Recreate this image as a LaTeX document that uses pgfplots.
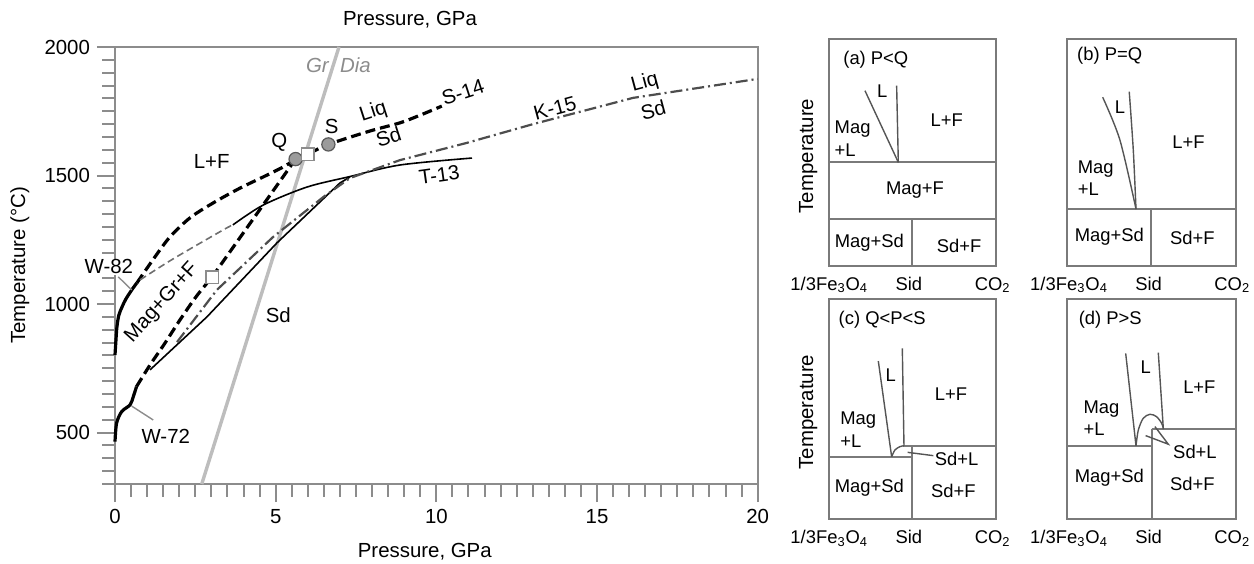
\documentclass[border=0pt]{standalone}
\usepackage{fontspec}
\setmainfont{Liberation Sans}
\usepackage{pgfplots}
\pgfplotsset{compat=1.18}
\definecolor{Frame}{HTML}{8C8C8C}
\definecolor{GrDia}{HTML}{BDBDBD}
\definecolor{Dot}{HTML}{9B9B9B}
\definecolor{DotEdge}{HTML}{5A5A5A}
\definecolor{Kline}{HTML}{4D4D4D}
\definecolor{Thin}{HTML}{6E6E6E}
\definecolor{Box}{HTML}{7A7A7A}
\definecolor{Inner}{HTML}{555555}

\newcommand{\fa}{\fontsize{10.2}{12}\selectfont}
\newcommand{\fb}{\fontsize{9.2}{11.2}\selectfont}

\pgfplotsset{
  panel/.style={anchor=south west, scale only axis,
    xmin=0, xmax=1, ymin=0, ymax=1, xtick=\empty, ytick=\empty,
    axis line style={line width=0.9pt, Box}, clip=false},
}
\tikzset{
  boxline/.style={Box, line width=0.9pt},
  inline/.style={Inner, line width=0.7pt},
  lab/.style={font=\fb, inner sep=0pt},
}

\begin{document}
\begin{tikzpicture}
\useasboundingbox (0,0) rectangle (627pt,281.5pt);

% ---------------- main P-T diagram ----------------
\begin{axis}[
  at={(57.5pt,39.5pt)}, anchor=south west, scale only axis,
  width=321.35pt, height=218.5pt,
  xmin=0, xmax=20, ymin=300, ymax=2000,
  xtick={0,5,10,15,20}, ytick={500,1000,1500,2000},
  minor xtick={0,0.5,...,20}, minor ytick={300,350,...,2000},
  tick align=outside, xtick pos=left, ytick pos=left,
  major tick length=9pt, minor tick length=6.3pt,
  every tick/.style={line width=1pt, Frame},
  axis line style={line width=1pt, Frame},
  tick label style={font=\fa},
  /pgf/number format/assume math mode=true,
  /pgf/number format/1000 sep={},
  clip=false,
]
% graphite/diamond boundary
\addplot[GrDia, line width=1.7pt] coordinates {(2.70,300) (6.97,2000)};

% W-82 (solid, then dashed to Q)
\addplot[black, line width=1.6pt, smooth] coordinates {
  (0,802) (0.03,860) (0.06,911) (0.12,957) (0.22,989) (0.34,1020) (0.56,1062) (0.68,1082)};
\addplot[black, line width=1.6pt, dash pattern=on 5pt off 2.5pt, smooth] coordinates {
  (0.68,1082) (1.24,1183) (1.71,1261) (2.33,1335) (3.05,1393) (3.89,1451) (4.67,1498) (5.29,1537) (5.62,1564)};

% W-72 (solid, then dashed through square to Q)
\addplot[black, line width=1.6pt, smooth] coordinates {
  (0,465) (0.05,537) (0.21,582) (0.47,608) (0.57,640) (0.67,679)};
\addplot[black, line width=1.6pt, dash pattern=on 5pt off 2.5pt, smooth] coordinates {
  (0.67,679) (1.09,763) (1.56,849) (2.02,938) (2.52,1028) (3.02,1105)};
\addplot[black, line width=1.6pt, dash pattern=on 5pt off 2.5pt] coordinates {
  (3.02,1105) (5.62,1564)};

% S-14
\addplot[black, line width=1.6pt, dash pattern=on 5pt off 2.5pt, smooth] coordinates {
  (5.62,1564) (6.0,1583) (6.64,1621) (7.93,1673) (8.87,1705) (9.5,1735) (10.17,1770)};

% thin curve: dashed extrapolation, then T-13 solid
\addplot[Thin, line width=0.8pt, dash pattern=on 3.5pt off 2pt, smooth] coordinates {
  (0.78,1094) (1.80,1175) (3.36,1288) (3.67,1308)};
\addplot[black, line width=0.8pt, smooth] coordinates {
  (3.67,1308) (4.61,1385) (5.97,1455) (7.31,1496) (8.87,1541) (11.11,1568)};
% T-13 lower branch
\addplot[black, line width=0.8pt] coordinates {
  (1.09,744) (2.86,950) (5.04,1238) (7.00,1471) (7.31,1494)};

% K-15
\addplot[Kline, line width=1.1pt, dash pattern=on 6pt off 2pt on 1pt off 2pt] coordinates {
  (1.93,852) (3.17,1055) (4.92,1261) (6.50,1418) (7.31,1490)
  (8.87,1560) (10.95,1627) (13.01,1700) (16.12,1802) (20.0,1876)};

% invariant points
\addplot[only marks, mark=*, mark size=3.3pt,
  mark options={fill=Dot, draw=DotEdge, line width=0.6pt}] coordinates {(5.62,1564) (6.64,1621)};
\addplot[only marks, mark=square*, mark size=3.2pt,
  mark options={fill=white, draw=Frame, line width=0.9pt}] coordinates {(3.02,1105) (6.0,1583)};

% leaders
\addplot[Frame, line width=0.7pt] coordinates {(0.10,1106) (0.52,1055)};
\addplot[Frame, line width=0.7pt] coordinates {(0.52,603) (1.19,549)};

% labels
\node[font=\fa\itshape, text=Frame] at (axis cs:6.30,1930) {Gr};
\node[font=\fa\itshape, text=Frame] at (axis cs:7.48,1930) {Dia};
\node[font=\fa] at (axis cs:5.11,1628) {Q};
\node[font=\fa] at (axis cs:6.74,1690) {S};
\node[font=\fa] at (axis cs:3.01,1554) {L+F};
\node[font=\fa, rotate=18] at (axis cs:8.04,1748) {Liq};
\node[font=\fa, rotate=18] at (axis cs:8.51,1651) {Sd};
\node[font=\fa, rotate=18] at (axis cs:10.83,1825) {S-14};
\node[font=\fa, rotate=15] at (axis cs:13.69,1762) {K-15};
\node[font=\fa, rotate=15] at (axis cs:16.49,1859) {Liq};
\node[font=\fa, rotate=15] at (axis cs:16.75,1755) {Sd};
\node[font=\fa, rotate=8] at (axis cs:10.09,1502) {T-13};
\node[font=\fa, fill=white, inner sep=0.5pt] at (axis cs:-0.19,1145) {W-82};
\node[font=\fa] at (axis cs:1.58,484) {W-72};
\node[font=\fa, rotate=48] at (axis cs:1.46,1004) {Mag+Gr+F};
\node[font=\fa] at (axis cs:5.08,957) {Sd};

\node[font=\fa] at (axis description cs:0.482,-0.155) {Pressure, GPa};
\node[font=\fa] at (axis description cs:0.459,1.062) {Pressure, GPa};
\node[font=\fa, rotate=90] at (axis description cs:-0.148,0.5) {Temperature (°C)};
\end{axis}

% ---------------- (a) P<Q ----------------
\begin{axis}[panel, at={(414.65pt,148.65pt)}, width=83.35pt, height=113.35pt]
\addplot[boxline] coordinates {(0,0.456) (1,0.456)};
\addplot[boxline] coordinates {(0,0.205) (1,0.205)};
\addplot[boxline] coordinates {(0.498,0) (0.498,0.205)};
\addplot[inline] coordinates {(0.214,0.772) (0.414,0.456)};
\addplot[inline] coordinates {(0.404,0.794) (0.414,0.456)};
\node[lab, anchor=west] at (axis cs:0.082,0.907) {(a) P<Q};
\node[lab] at (axis cs:0.318,0.768) {L};
\node[lab, anchor=west, align=left] at (axis cs:0.03,0.56) {Mag\\+L};
\node[lab] at (axis cs:0.704,0.643) {L+F};
\node[lab] at (axis cs:0.514,0.334) {Mag+F};
\node[lab] at (axis cs:0.24,0.103) {Mag+Sd};
\node[lab] at (axis cs:0.778,0.088) {Sd+F};
\node[lab, anchor=base, yshift=-12.2pt] at (axis cs:0.0,0) {1/3Fe\textsubscript{3}O\textsubscript{4}};
\node[lab, anchor=base, yshift=-12.2pt] at (axis cs:0.477,0) {Sid};
\node[lab, anchor=base, yshift=-12.2pt] at (axis cs:0.98,0) {CO\textsubscript{2}};
\node[font=\fa, rotate=90, inner sep=0pt] at (axis cs:-0.126,0.484) {Temperature};
\end{axis}

% ---------------- (b) P=Q ----------------
\begin{axis}[panel, at={(533.35pt,148.65pt)}, width=84.5pt, height=113.35pt]
\addplot[boxline] coordinates {(0,0.25) (1,0.25)};
\addplot[boxline] coordinates {(0.497,0) (0.497,0.25)};
\addplot[inline, smooth] coordinates {(0.213,0.743) (0.315,0.554) (0.41,0.25)};
\addplot[inline, smooth] coordinates {(0.37,0.768) (0.394,0.51) (0.41,0.25)};
\node[lab, anchor=west] at (axis cs:0.06,0.925) {(b) P=Q};
\node[lab] at (axis cs:0.315,0.699) {L};
\node[lab, anchor=west, align=left] at (axis cs:0.063,0.387) {Mag\\+L};
\node[lab] at (axis cs:0.72,0.543) {L+F};
\node[lab] at (axis cs:0.252,0.128) {Mag+Sd};
\node[lab] at (axis cs:0.743,0.121) {Sd+F};
\node[lab, anchor=base, yshift=-12.2pt] at (axis cs:0.014,0) {1/3Fe\textsubscript{3}O\textsubscript{4}};
\node[lab, anchor=base, yshift=-12.2pt] at (axis cs:0.485,0) {Sid};
\node[lab, anchor=base, yshift=-12.2pt] at (axis cs:0.98,0) {CO\textsubscript{2}};
\end{axis}

% ---------------- (c) Q<P<S ----------------
\begin{axis}[panel, at={(414.65pt,22pt)}, width=83.35pt, height=110pt]
\addplot[boxline] coordinates {(0,0.283) (0.498,0.283)};
\addplot[boxline] coordinates {(0.444,0.333) (1,0.333)};
\addplot[boxline] coordinates {(0.498,0) (0.498,0.333)};
\addplot[inline] coordinates {(0.294,0.718) (0.374,0.283)};
\addplot[inline] coordinates {(0.438,0.776) (0.448,0.333)};
\addplot[inline, smooth] coordinates {(0.374,0.283) (0.394,0.314) (0.424,0.329) (0.448,0.333)};
\addplot[inline] coordinates {(0.47,0.303) (0.624,0.288)};
\node[lab, anchor=west] at (axis cs:0.054,0.908) {(c) Q<P<S};
\node[lab] at (axis cs:0.368,0.655) {L};
\node[lab, anchor=west, align=left] at (axis cs:0.064,0.406) {Mag\\+L};
\node[lab] at (axis cs:0.73,0.567) {L+F};
\node[lab] at (axis cs:0.764,0.271) {Sd+L};
\node[lab] at (axis cs:0.24,0.144) {Mag+Sd};
\node[lab] at (axis cs:0.744,0.127) {Sd+F};
\node[lab, anchor=base, yshift=-12.2pt] at (axis cs:0.0,0) {1/3Fe\textsubscript{3}O\textsubscript{4}};
\node[lab, anchor=base, yshift=-12.2pt] at (axis cs:0.477,0) {Sid};
\node[lab, anchor=base, yshift=-12.2pt] at (axis cs:0.98,0) {CO\textsubscript{2}};
\node[font=\fa, rotate=90, inner sep=0pt] at (axis cs:-0.126,0.486) {Temperature};
\end{axis}

% ---------------- (d) P>S ----------------
\begin{axis}[panel, at={(533.35pt,22pt)}, width=84.5pt, height=110pt]
\addplot[boxline] coordinates {(0,0.333) (0.503,0.333)};
\addplot[boxline] coordinates {(0.503,0.408) (1,0.408)};
\addplot[boxline] coordinates {(0.503,0) (0.503,0.408)};
\addplot[inline] coordinates {(0.349,0.753) (0.41,0.333)};
\addplot[inline] coordinates {(0.542,0.756) (0.572,0.408)};
\addplot[inline, smooth] coordinates {(0.41,0.333) (0.424,0.405) (0.453,0.458) (0.493,0.476) (0.532,0.465) (0.562,0.435) (0.572,0.412)};
\addplot[inline] coordinates {(0.467,0.379) (0.601,0.34) (0.522,0.42)};
\node[lab, anchor=west] at (axis cs:0.069,0.908) {(d) P>S};
\node[lab] at (axis cs:0.467,0.69) {L};
\node[lab, anchor=west, align=left] at (axis cs:0.098,0.458) {Mag\\+L};
\node[lab] at (axis cs:0.785,0.601) {L+F};
\node[lab] at (axis cs:0.759,0.306) {Sd+L};
\node[lab] at (axis cs:0.252,0.188) {Mag+Sd};
\node[lab] at (axis cs:0.743,0.158) {Sd+F};
\node[lab, anchor=base, yshift=-12.2pt] at (axis cs:0.014,0) {1/3Fe\textsubscript{3}O\textsubscript{4}};
\node[lab, anchor=base, yshift=-12.2pt] at (axis cs:0.485,0) {Sid};
\node[lab, anchor=base, yshift=-12.2pt] at (axis cs:0.98,0) {CO\textsubscript{2}};
\end{axis}
\end{tikzpicture}
\end{document}
